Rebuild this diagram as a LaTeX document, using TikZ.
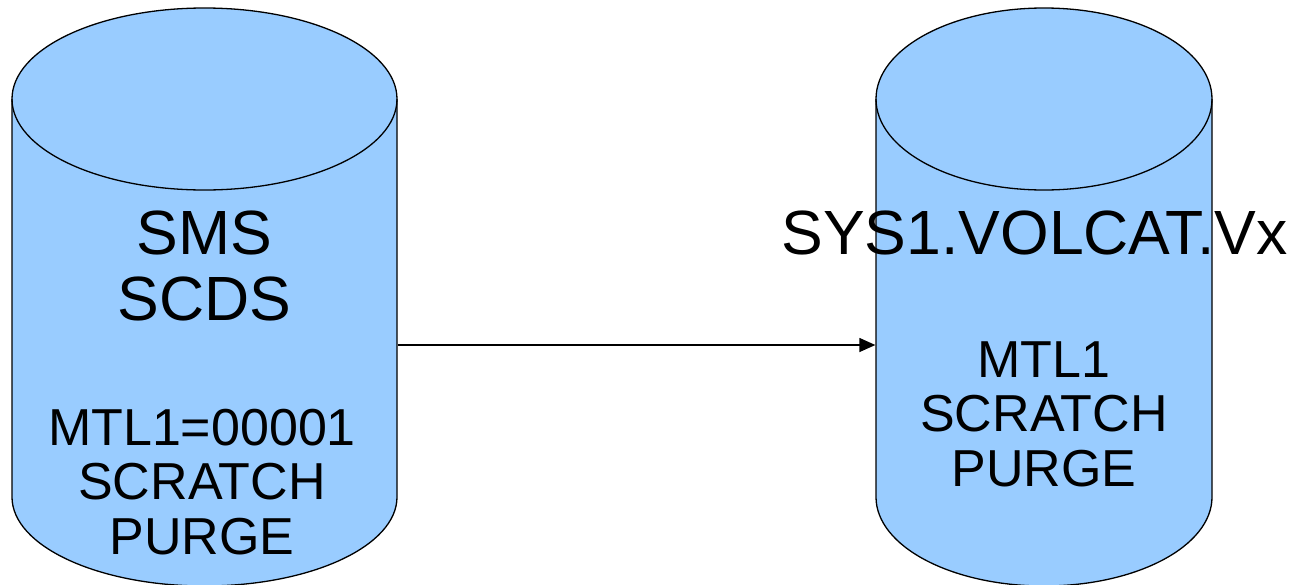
\documentclass[tikz,border=0pt]{standalone}
\usepackage{fontspec}
\setmainfont{Liberation Sans}
\usetikzlibrary{arrows.meta,positioning}
\definecolor{disk}{HTML}{99CCFF}

\begin{document}
\begin{tikzpicture}[x=1pt,y=1pt,>={Triangle[length=16pt,width=14pt]},
line width=1.3pt]
\tikzstyle{dasd}=[draw=black,fill=disk]
\tikzstyle{body}=[inner sep=0pt,minimum height=398pt]
\tikzstyle{big}=[font=\fontsize{62.5}{66}\selectfont,align=center,inner sep=0pt]
\tikzstyle{small}=[font=\fontsize{52}{54.5}\selectfont,align=center,inner sep=0pt]
\useasboundingbox (0,0) rectangle (1314,-584);

% the two disks: name / centre x / half width
\foreach \name/\cx/\rx in {scds/204.5/192.5, volcat/1044/168}{
  \path[dasd] (\cx-\rx,-99) -- (\cx-\rx,-497)
    arc[start angle=180,end angle=360,x radius=\rx,y radius=89]
    -- (\cx+\rx,-99)
    arc[start angle=0,end angle=180,x radius=\rx,y radius=91] -- cycle;
  \draw (\cx-\rx,-99) arc[start angle=180,end angle=360,x radius=\rx,y radius=91];
  \node[body,minimum width=2*\rx] (\name) at (\cx,-298) {};
}

\node[big,anchor=base]   (scdsname)    at (204.5,-320) {SMS\\SCDS};
\node[small,anchor=base] (scdsentry)   at (202,-554) {MTL1=00001\\SCRATCH\\PURGE};
\node[big,anchor=base]   (volcatname)  at (1034.5,-254) {SYS1.VOLCAT.Vx};
\node[small,anchor=base] (volcatentry) at (1044,-486) {MTL1\\SCRATCH\\PURGE};

\draw[->] ([yshift=-47pt]scds.east) -- ([yshift=-47pt]volcat.west);
\end{tikzpicture}
\end{document}
